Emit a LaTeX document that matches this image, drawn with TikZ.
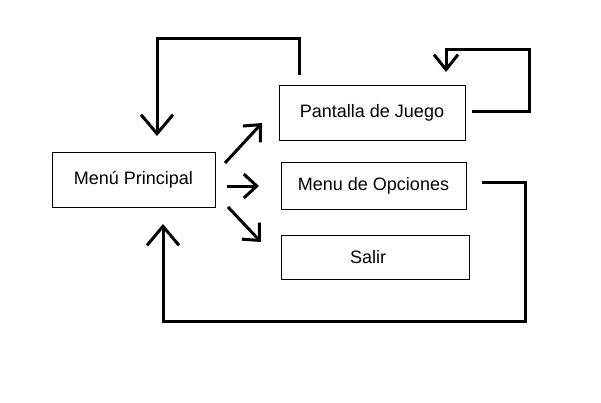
\documentclass[tikz,border=0pt]{standalone}
\usepackage{fontspec}
\setmainfont{Liberation Sans}
\usetikzlibrary{arrows.meta}
\begin{document}
\begin{tikzpicture}[x=1pt,y=-1pt,
  box/.style={draw,line width=1pt,inner sep=0pt,font=\fontsize{18}{21}\selectfont},
  link/.style={line width=3pt},
  bigtip/.style={-{Straight Barb[length=19pt,width=32pt,sharp]}},
  midtip/.style={-{Straight Barb[length=15pt,width=24pt,sharp]}},
  smalltip/.style={-{Straight Barb[length=13pt,width=24pt,sharp]}}]
\useasboundingbox[fill=white] (0,0) rectangle (601,402);
\node[box,minimum width=163pt,minimum height=55pt] (menu) at (133.5,179.5) {Menú Principal};
\node[box,minimum width=186pt,minimum height=55pt] (juego) at (372,112.5) {Pantalla de Juego};
\node[box,minimum width=185pt,minimum height=47pt] (opc) at (373.5,185.5) {Menu de Opciones};
\node[box,minimum width=188pt,minimum height=44pt] (salir) at (375,257) {\hspace*{-14pt}Salir};
% free ends of connectors
\coordinate (jTop) at (299,75);
\coordinate (mIn1) at (157,136);
\coordinate (jRight) at (472,111);
\coordinate (jIn) at (446,72);
\coordinate (oRight) at (482,182);
\coordinate (mIn2) at (163,224);
\coordinate (a1s) at (225,163);
\coordinate (a1e) at (262,123);
\coordinate (a2s) at (227,186);
\coordinate (a2e) at (259,186);
\coordinate (a3s) at (228,207);
\coordinate (a3e) at (261,242);
% connectors
\draw[link,bigtip] (jTop) -- (299,38) -- (157,38) -- (mIn1);
\draw[link,midtip] (jRight) -- (529,111) -- (529,49) -- (446,49) -- (jIn);
\draw[link,bigtip] (oRight) -- (525,182) -- (525,321) -- (163,321) -- (mIn2);
\draw[link,smalltip] (a1s) -- (a1e);
\draw[link,smalltip] (a2s) -- (a2e);
\draw[link,smalltip] (a3s) -- (a3e);
\end{tikzpicture}
\end{document}
